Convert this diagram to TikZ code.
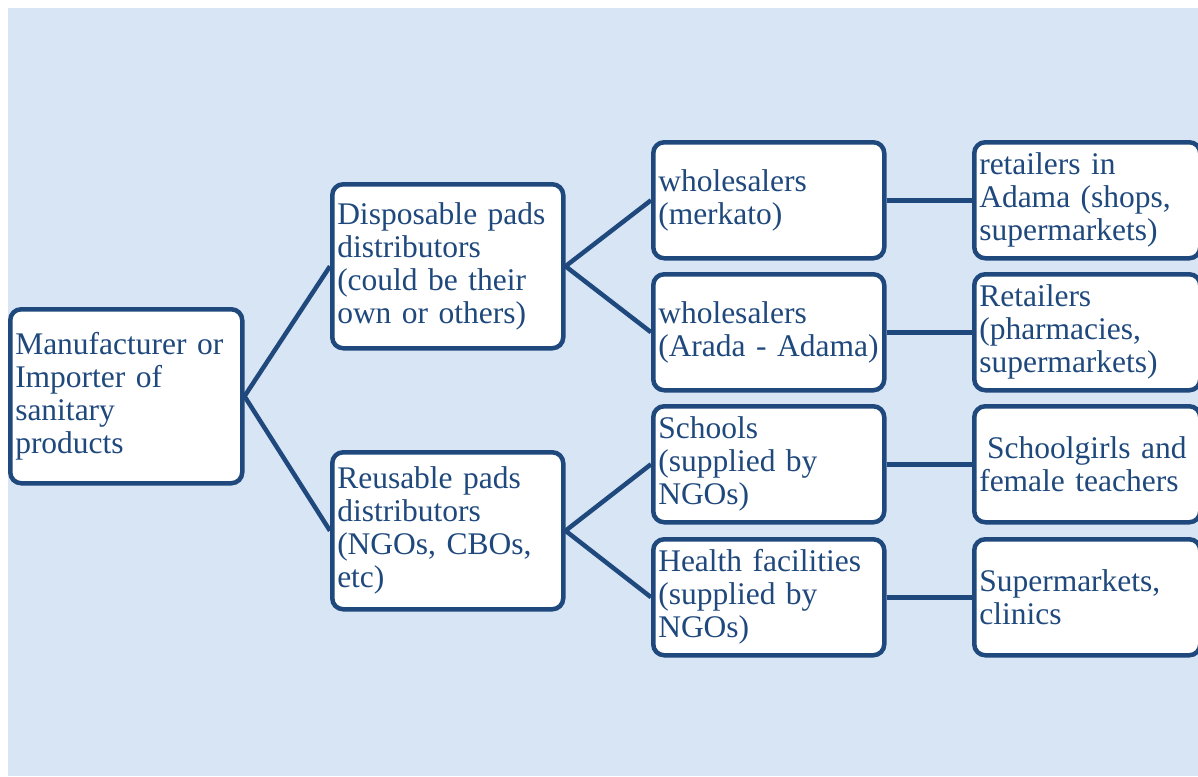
\documentclass[tikz,border=0pt]{standalone}
\usepackage{fontspec}
\setmainfont{Liberation Serif}
\definecolor{bordc}{HTML}{1F497D}
\definecolor{txtc}{HTML}{1F497D}
\definecolor{bgc}{HTML}{D8E5F5}
\tikzset{
  box/.style={draw=bordc, line width=4.5pt, fill=white, rounded corners=11pt,
    anchor=north west, align=left, inner sep=5pt, text=txtc,
    font=\fontsize{31.5}{33}\selectfont},
  link/.style={draw=bordc, line width=4.5pt}
}
\begin{document}
\begin{tikzpicture}[x=1pt,y=-1pt]
\useasboundingbox (0,0) rectangle (1198,776);
\fill[white] (0,0) rectangle (1198,776);
\fill[bgc] (8,8) rectangle (1198,776);
% level 0
\node[box, minimum width=232pt, minimum height=174pt, text width=222pt] (a) at (8,307)
  {Manufacturer or\\Importer of\\sanitary\\products};
% level 1
\node[box, minimum width=231pt, minimum height=164pt, text width=221pt] (b) at (330,182)
  {Disposable pads\\distributors\\(could be their\\own or others)};
\node[box, minimum width=231pt, minimum height=157pt, text width=221pt] (c) at (330,450)
  {Reusable pads\\distributors\\(NGOs, CBOs,\\etc)};
% level 2
\node[box, minimum width=231pt, minimum height=116pt, text width=221pt] (d1) at (651,140)
  {wholesalers\\(merkato)};
\node[box, minimum width=231pt, minimum height=116pt, text width=221pt] (d2) at (651,272)
  {wholesalers\\(Arada - Adama)};
\node[box, minimum width=231pt, minimum height=116pt, text width=221pt] (d3) at (651,404)
  {Schools\\(supplied by\\NGOs)};
\node[box, minimum width=231pt, minimum height=116pt, text width=221pt] (d4) at (651,537)
  {Health facilities\\(supplied by\\NGOs)};
% level 3
\node[box, minimum width=226pt, minimum height=116pt, text width=216pt] (e1) at (972,140)
  {retailers in\\Adama (shops,\\supermarkets)};
\node[box, minimum width=226pt, minimum height=116pt, text width=216pt] (e2) at (972,272)
  {Retailers\\(pharmacies,\\supermarkets)};
\node[box, minimum width=226pt, minimum height=116pt, text width=216pt] (e3) at (972,404)
  {\hspace{0.25em}Schoolgirls and\\female teachers};
\node[box, minimum width=226pt, minimum height=116pt, text width=216pt] (e4) at (972,537)
  {Supermarkets,\\clinics};
% connectors
\draw[link] (b.west) -- (a.east) -- (c.west);
\draw[link] (d1.west) -- (b.east) -- (d2.west);
\draw[link] (d3.west) -- (c.east) -- (d4.west);
\draw[link] (d1.east) -- (e1.west);
\draw[link] (d2.east) -- (e2.west);
\draw[link] (d3.east) -- (e3.west);
\draw[link] (d4.east) -- (e4.west);
\end{tikzpicture}
\end{document}
